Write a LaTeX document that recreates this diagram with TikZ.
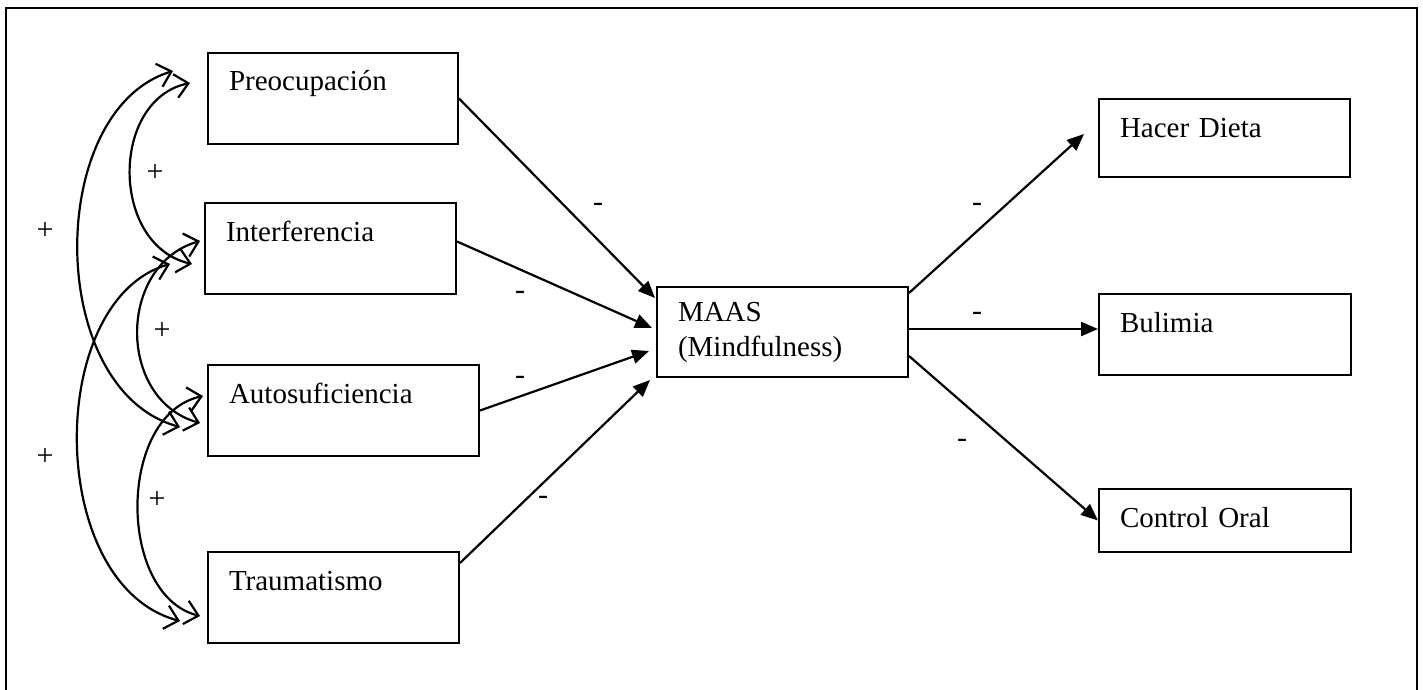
\documentclass[tikz,border=0pt]{standalone}
\usepackage{fontspec}
\setmainfont{Liberation Serif}
\usetikzlibrary{arrows.meta,calc}
\begin{document}
\begin{tikzpicture}[x=1pt,y=-1pt,
  box/.style={draw, line width=2pt, anchor=north west, inner xsep=21pt,
    inner ysep=0pt, text height=38pt, align=left,
    font=\fontsize{29}{35}\selectfont},
  effect/.style={line width=2.2pt, -{Triangle[length=17pt,width=14pt]}},
  covar/.style={line width=2.2pt,
    {Straight Barb[length=13pt,width=24pt]}-{Straight Barb[length=13pt,width=24pt]}},
  sign/.style={font=\fontsize{30}{30}\selectfont, inner sep=0pt}
]
\useasboundingbox (0,0) rectangle (1423,690);

% outer frame (open at the bottom)
\draw[line width=2.2pt] (6,690) -- (6,8) -- (1417,8) -- (1417,690);

% predictors
\node[box, text width=208pt, text depth=53pt] (pre) at (207,52)  {Preocupación};
\node[box, text width=209pt, text depth=53pt] (int) at (204,202) {Interferencia};
\node[box, text width=229pt, text depth=53pt] (aut) at (207,364) {Autosuficiencia};
\node[box, text width=209pt, text depth=53pt] (tra) at (207,551) {Traumatismo};

% mediator
\node[draw, line width=2pt, anchor=north west, minimum width=251pt,
  minimum height=90pt, text width=209pt, inner xsep=21pt, inner ysep=0pt,
  align=left, font=\fontsize{29}{35}\selectfont] (maas) at (656,286)
  {MAAS\\(Mindfulness)};

% outcomes
\node[box, text width=209pt, text depth=40pt] (hac) at (1098,98)  {Hacer Dieta};
\node[box, text width=210pt, text depth=43pt] (bul) at (1098,293) {Bulimia};
\node[box, text width=210pt, text depth=25pt] (con) at (1098,488) {Control Oral};

% paths into MAAS
\draw[effect] (pre.east) -- ($(maas.north west)+(-1,12)$);
\draw[effect] ($(int.east)+(0,-7)$) -- ($(maas.west)+(-4,-4)$);
\draw[effect] (aut.east) -- ($(maas.west)+(-7,19)$);
\draw[effect] ($(tra.north east)+(0,12)$) -- ($(maas.south west)+(-6,2)$);

% paths out of MAAS
\draw[effect] ($(maas.north east)+(0,7)$) -- ($(hac.west)+(-14,-4)$);
\draw[effect] ($(maas.east)+(0,-3)$) -- ($(bul.west)+(0,-5.5)$);
\draw[effect] ($(maas.east)+(0,24)$) -- (con.west);

% covariances among predictors
\draw[covar] ($(pre.west)+(-17,-15.5)$) .. controls (110,100) and (110,245) .. ($(int.west)+(-12,15.5)$);
\draw[covar] ($(pre.west)+(-34,-27.5)$) .. controls (45,110) and (45,390) .. ($(aut.west)+(-27,16.5)$);
\draw[covar] ($(int.west)+(-4,-7.5)$) .. controls (117,265) and (117,400) .. ($(aut.west)+(-7,12.5)$);
\draw[covar] ($(int.west)+(-34,15.5)$) .. controls (45,300) and (45,585) .. ($(tra.west)+(-27,23.5)$);
\draw[covar] ($(aut.west)+(-4,-14.5)$) .. controls (117,415) and (117,595) .. ($(tra.west)+(-7,18.5)$);

% signs
\node[sign] (p1) at (155,173) {+};
\node[sign] (p2) at (45,231)  {+};
\node[sign] (p3) at (162,331) {+};
\node[sign] (p4) at (45,457)  {+};
\node[sign] (p5) at (157,500) {+};

\node[sign] (m1) at (598,207) {-};
\node[sign] (m2) at (520,295) {-};
\node[sign] (m3) at (520,380) {-};
\node[sign] (m4) at (543,500) {-};
\node[sign] (m5) at (977,207) {-};
\node[sign] (m6) at (977,316) {-};
\node[sign] (m7) at (962,443) {-};
\end{tikzpicture}
\end{document}
